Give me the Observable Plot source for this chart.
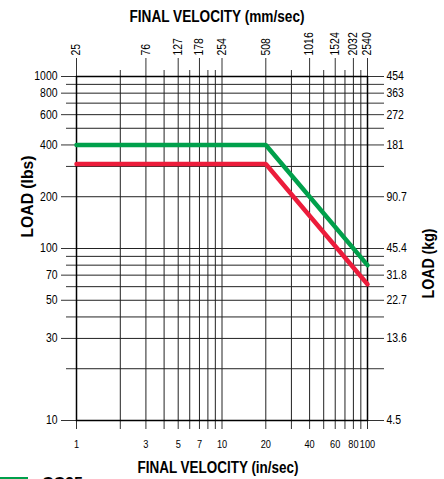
<!DOCTYPE html>
<html>
<head>
<meta charset="utf-8">
<script src="https://cdn.jsdelivr.net/npm/d3@7"></script>
<script src="https://cdn.jsdelivr.net/npm/@observablehq/plot@0.6"></script>
<style>
  body { margin: 0; background: #fff; }
  #legend { display: flex; align-items: flex-start; height: 20px; font-family: 'Liberation Sans', Arial, sans-serif; font-weight: bold; font-size: 16px; line-height: 16px; }
  #legend .sw { width: 28px; height: 12px; background: #00a04b; margin-top: 1px; }
  #legend .lb { margin-left: 14px; }
</style>
</head>
<body>
<div id="chart"></div>
<div id="legend"><div class="sw"></div><div class="lb">CC25</div></div>
<script>
// grid values (in/sec)
const velGrid = [1,2,3,4,5,6,7,8,9,10,20,30,40,50,60,70,80,90,100];
const labeledIn = [1,3,5,7,10,20,40,60,80,100];
const mmLabels = ["25","76","127","178","254","508","1016","1524","2032","2540"];
// grid values (lbs)
const loadGrid = [10,20,30,40,50,60,70,80,90,100,200,300,400,500,600,700,800,900,1000];
const labeledLbs = [1000,800,600,400,200,100,70,50,30,10];
const kgLabels = ["454","363","272","181","90.7","45.4","31.8","22.7","13.6","4.5"];
// series
const velocity = [1, 20, 100];
const greenLoad = [400, 400, 80];
const redLoad = [310, 310, 62];

const unlabeledIn = velGrid.filter(d => !labeledIn.includes(d));
const unlabeledLbs = loadGrid.filter(d => !labeledLbs.includes(d));
const green = velocity.map((v, i) => ({v, load: greenLoad[i]}));
const red = velocity.map((v, i) => ({v, load: redLoad[i]}));

const font = "'Liberation Sans', Arial, sans-serif";
const tickColor = "#333";
const none = () => "";

const chart = Plot.plot({
  width: 444,
  height: 476,
  marginLeft: 76,
  marginRight: 77,
  marginTop: 76,
  marginBottom: 56,
  style: {fontFamily: font, fontSize: "12px", color: "#000", background: "#fff"},
  x: {type: "log", domain: [1, 100]},
  y: {type: "log", domain: [10, 1000]},
  marks: [
    Plot.gridX(velGrid, {stroke: "#222", strokeOpacity: 1, strokeWidth: 1}),
    Plot.gridY(loadGrid, {stroke: "#222", strokeOpacity: 1, strokeWidth: 1}),
    // tick lines
    Plot.axisY(labeledLbs, {anchor: "left", tickSize: 15, stroke: tickColor, tickFormat: none, label: null}),
    Plot.axisY(unlabeledLbs, {anchor: "left", tickSize: 10, stroke: tickColor, tickFormat: none, label: null}),
    Plot.axisY(loadGrid, {anchor: "right", tickSize: 16, stroke: tickColor, tickFormat: none, label: null}),
    Plot.axisX(labeledIn, {anchor: "top", tickSize: 19, stroke: tickColor, tickFormat: none, label: null}),
    Plot.axisX(unlabeledIn, {anchor: "top", tickSize: 7, stroke: tickColor, tickFormat: none, label: null}),
    Plot.axisX(velGrid, {anchor: "bottom", tickSize: 9, stroke: tickColor, tickFormat: none, label: null}),
    Plot.frame({stroke: "#000", strokeWidth: 1.5}),
    // tick labels
    Plot.text(labeledLbs, {y: d => d, text: d => String(d), frameAnchor: "left", textAnchor: "end", dx: -19, className: "tk"}),
    Plot.text(labeledLbs, {y: d => d, text: (d, i) => kgLabels[i], frameAnchor: "right", textAnchor: "start", dx: 19, className: "tk"}),
    Plot.text(labeledIn, {x: d => d, text: d => String(d), frameAnchor: "bottom", lineAnchor: "top", dy: 19, fontSize: 11.5, className: "tkb"}),
    Plot.text(labeledIn, {x: d => d, text: (d, i) => mmLabels[i], frameAnchor: "top", rotate: -90, textAnchor: "start", lineAnchor: "middle", dy: -21, className: "tk"}),
    // series
    Plot.line(green, {x: "v", y: "load", stroke: "#00a04b", strokeWidth: 4.5, strokeLinejoin: "miter"}),
    Plot.line(red, {x: "v", y: "load", stroke: "#ec1c3b", strokeWidth: 4.5, strokeLinejoin: "miter"}),
    // titles
    Plot.text(["FINAL VELOCITY (mm/sec)"], {text: d => d, frameAnchor: "top", dx: -5, dy: -55, lineAnchor: "bottom", fontWeight: "bold", fontSize: 16, className: "ttl-top"}),
    Plot.text(["FINAL VELOCITY (in/sec)"], {text: d => d, frameAnchor: "bottom", dx: -4, dy: 52, lineAnchor: "bottom", fontWeight: "bold", fontSize: 16, className: "ttl-bot"}),
    Plot.text(["LOAD (lbs)"], {text: d => d, frameAnchor: "left", dx: -49, dy: -11, rotate: -90, fontWeight: "bold", fontSize: 16, className: "ttl-lbs"}),
    Plot.text(["LOAD (kg)"], {text: d => d, frameAnchor: "right", dx: 61, dy: -20, rotate: -90, fontWeight: "bold", fontSize: 16, className: "ttl-kg"})
  ]
});
document.getElementById("chart").appendChild(chart);
// condense the text like the reference's narrow face
const lengths = {"ttl-top": 175, "ttl-bot": 161, "ttl-lbs": 82, "ttl-kg": 70};
for (const [cls, len] of Object.entries(lengths)) {
  d3.select(chart).selectAll(`.${cls} text`).attr("textLength", len).attr("lengthAdjust", "spacingAndGlyphs");
}
const condense = (sel, k) => d3.select(chart).selectAll(sel).each(function() {
  const w = this.getComputedTextLength();
  d3.select(this).attr("textLength", (w * k).toFixed(2)).attr("lengthAdjust", "spacingAndGlyphs");
});
condense(".tk text", 0.87);
condense(".tkb text", 0.8);
</script>
</body>
</html>
